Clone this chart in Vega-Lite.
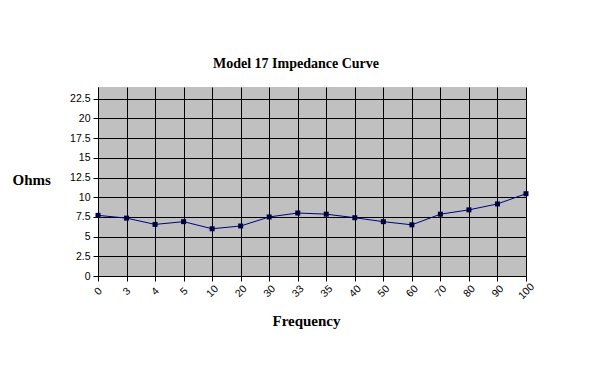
{
  "$schema": "https://vega.github.io/schema/vega-lite/v6.json",
  "width": 428,
  "height": 189,
  "autosize": {"type": "none"},
  "padding": {"left": 98, "top": 87, "right": 74, "bottom": 100},
  "background": "white",
  "title": {
    "text": "Model 17 Impedance Curve",
    "font": "Liberation Serif",
    "fontSize": 14,
    "fontWeight": "bold",
    "color": "black",
    "dx": -16,
    "offset": 16
  },
  "config": {
    "view": {"fill": "#c0c0c0", "stroke": null},
    "axis": {
      "labelFont": "Liberation Sans",
      "labelFontSize": 10.5,
      "labelColor": "black",
      "gridColor": "black",
      "gridOpacity": 1,
      "gridWidth": 1,
      "domainColor": "black",
      "tickColor": "black",
      "titleFont": "Liberation Serif",
      "titleFontSize": 15,
      "titleFontWeight": "bold",
      "titleColor": "black"
    }
  },
  "data": {
    "values": [
      {"freq": "0", "ohms": 7.7},
      {"freq": "3", "ohms": 7.35},
      {"freq": "4", "ohms": 6.55},
      {"freq": "5", "ohms": 6.9},
      {"freq": "10", "ohms": 6.0},
      {"freq": "20", "ohms": 6.35},
      {"freq": "30", "ohms": 7.5},
      {"freq": "33", "ohms": 8.0},
      {"freq": "35", "ohms": 7.85},
      {"freq": "40", "ohms": 7.4},
      {"freq": "50", "ohms": 6.9},
      {"freq": "60", "ohms": 6.5},
      {"freq": "70", "ohms": 7.85},
      {"freq": "80", "ohms": 8.4},
      {"freq": "90", "ohms": 9.15},
      {"freq": "100", "ohms": 10.45}
    ]
  },
  "encoding": {
    "x": {
      "field": "freq",
      "type": "ordinal",
      "sort": null,
      "scale": {"type": "point", "padding": 0},
      "axis": {
        "title": "Frequency",
        "labelAngle": -45,
        "labelAlign": "center",
        "labelBaseline": "middle",
        "labelPadding": 10,
        "tickSize": 5,
        "grid": true,
        "titlePadding": 12,
        "titleX": 208
      }
    },
    "y": {
      "field": "ohms",
      "type": "quantitative",
      "scale": {"domain": [0, 24], "nice": false},
      "axis": {
        "title": "Ohms",
        "values": [0, 2.5, 5, 7.5, 10, 12.5, 15, 17.5, 20, 22.5],
        "format": ".1~f",
        "grid": true,
        "tickSize": 5,
        "labelPadding": 3,
        "titleAngle": 0,
        "titleX": -86,
        "titleY": 92,
        "titleAlign": "left",
        "titleBaseline": "middle"
      }
    }
  },
  "layer": [
    {"mark": {"type": "line", "color": "#000080", "strokeWidth": 1}},
    {"mark": {"type": "point", "shape": "square", "filled": true, "color": "#000040", "size": 25, "opacity": 1}}
  ]
}
